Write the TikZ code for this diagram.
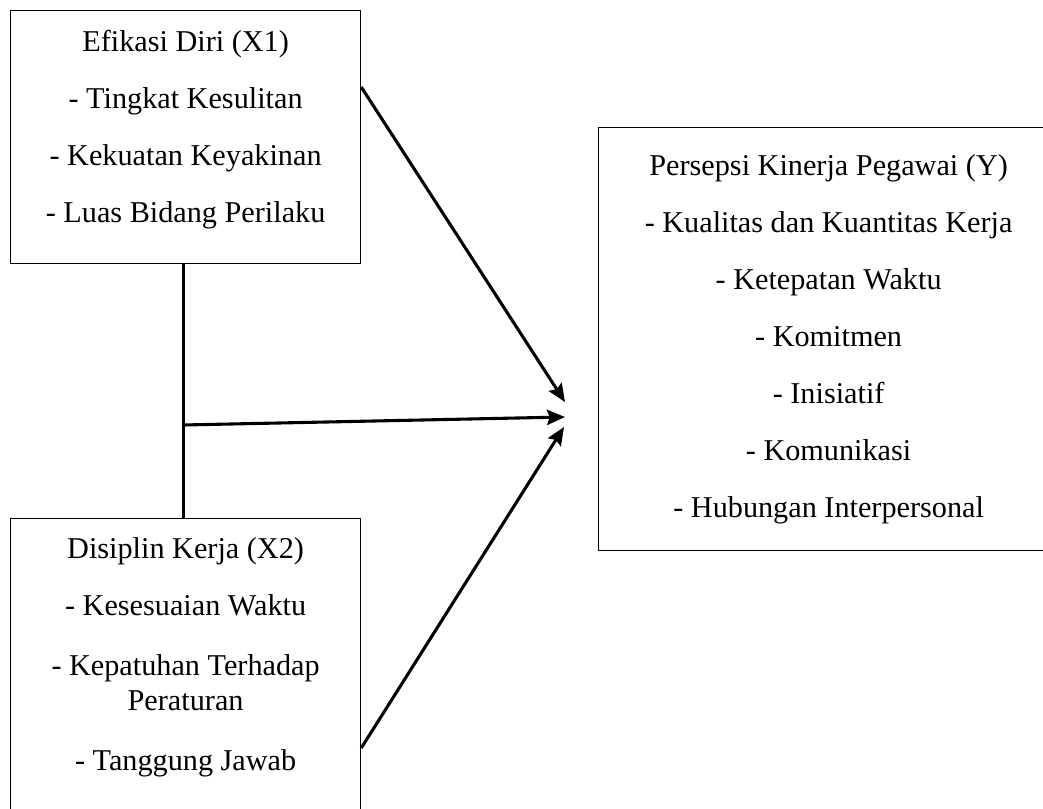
\documentclass[tikz,border=0pt]{standalone}
\usepackage{fontspec}
\setmainfont{Liberation Serif}
\usetikzlibrary{positioning,arrows.meta}

\begin{document}
\begin{tikzpicture}[%
            x=0.025cm, y=-0.025cm,
            varbox/.style={draw, line width=0.8pt, anchor=north west, align=center,
                inner xsep=0pt, inner ysep=0pt, font=\fontsize{21.5pt}{40.6pt}\selectfont},
            arrow/.style={-{Stealth[length=0.45cm, width=0.38cm, inset=0.07cm]}, line width=2.2pt},
            link/.style={line width=2.2pt}
        ]
        \useasboundingbox (0,0) rectangle (1043,808);
        \clip (0,0) rectangle (1043,808);

        % Independent variables
        \node[varbox, minimum width=8.75cm, text height=5.3cm, text depth=1.025cm] (x1) at (10,10)
            {Efikasi Diri (X1)\\- Tingkat Kesulitan\\- Kekuatan Keyakinan\\- Luas Bidang Perilaku};
        \node[varbox, minimum width=8.75cm, text height=6.3cm, text depth=1.75cm] (x2) at (10,518)
            {Disiplin Kerja (X2)\\- Kesesuaian Waktu\\[2pt]- Kepatuhan Terhadap\\[-15.6pt]Peraturan\\[2pt]- Tanggung Jawab};

        % Dependent variable
        \node[varbox, minimum width=11.5cm, text height=9.75cm, text depth=0.825cm] (y) at (598,127)
            {Persepsi Kinerja Pegawai (Y)\\- Kualitas dan Kuantitas Kerja\\- Ketepatan Waktu\\- Komitmen\\- Inisiatif\\- Komunikasi\\- Hubungan Interpersonal};

        % Arrow tips and joint
        \coordinate (tipA) at (565,402);
        \coordinate (tipB) at (565,417);
        \coordinate (tipC) at (564,427);
        \coordinate (fork) at (183,425);

        % Connect X1 and X2 to Y
        \draw[link] ([xshift=-0.05cm]x1.south) -- ([xshift=-0.05cm]x2.north);
        \draw[arrow] ([yshift=-1.925cm]x1.north east) -- (tipA);
        \draw[arrow] (fork) -- (tipB);
        \draw[arrow] ([yshift=-5.75cm]x2.north east) -- (tipC);

        \end{tikzpicture}
\end{document}
